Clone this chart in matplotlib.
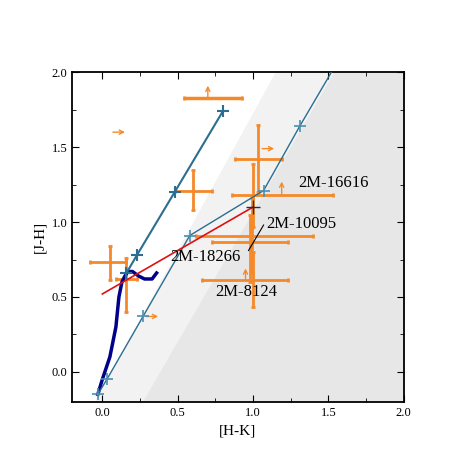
import matplotlib
matplotlib.use("Agg")
import matplotlib.pyplot as plt
import numpy as np
from matplotlib.ticker import MultipleLocator

plt.rcParams['font.family'] = ['Liberation Serif', 'DejaVu Serif']
plt.rcParams['mathtext.fontset'] = 'stix'

# reddening lines (blue)
red1_x = [0.16, 0.23, 0.48, 0.80]
red1_y = [0.66, 0.78, 1.20, 1.74]
red2_x = [-0.03, 0.03, 0.27, 0.58, 1.07, 1.31]
red2_y = [-0.15, -0.05, 0.37, 0.91, 1.21, 1.64]
red2_end = (1.52, 2.0)
# CTTS-like line (red)
ctts_x = [0.0, 1.0]
ctts_y = [0.52, 1.10]
# dwarf locus (navy)
locus_x = [-0.03, 0.0, 0.05, 0.09, 0.11, 0.13, 0.15, 0.17, 0.20, 0.24, 0.28, 0.33, 0.36]
locus_y = [-0.15, -0.05, 0.10, 0.30, 0.50, 0.60, 0.64, 0.67, 0.67, 0.64, 0.62, 0.62, 0.66]

# orange data with error bars
obj_x = [0.60, 0.05, 0.16, 1.03, 1.00, 0.99, 0.98, 1.00]
obj_y = [1.21, 0.73, 0.62, 1.42, 1.18, 0.91, 0.87, 0.61]
obj_xlo = [0.12, 0.13, 0.07, 0.15, 0.14, 0.37, 0.25, 0.34]
obj_xhi = [0.13, 0.11, 0.07, 0.16, 0.53, 0.41, 0.25, 0.23]
obj_ylo = [0.13, 0.12, 0.22, 0.22, 0.21, 0.25, 0.27, 0.18]
obj_yhi = [0.14, 0.11, 0.14, 0.23, 0.21, 0.25, 0.18, 0.19]
# limits: horizontal bar with up arrow, short right arrows, small up arrows
hbar_x, hbar_y, hbar_xlo, hbar_xhi = 0.73, 1.83, 0.19, 0.20
rarrow_x = [0.07, 0.29, 1.06]
rarrow_y = [1.60, 0.37, 1.49]
uarrow_x = [0.70, 1.19, 0.95]
uarrow_y = [1.83, 1.19, 0.61]

labels = ["2M-16616", "2M-10095", "2M-18266", "2M-8124"]
label_x = [1.30, 1.09, 0.45, 0.75]
label_y = [1.26, 0.99, 0.77, 0.53]

orange = '#f5892a'
blue = '#2b6e8f'

fig = plt.figure(figsize=(4.75, 4.75), dpi=100)
ax = fig.add_axes([0.152, 0.154, 0.698, 0.694])
ax.set_xlim(-0.2, 2.0)
ax.set_ylim(-0.2, 2.0)

ax.fill([-0.05, 1.15, 2.0, 2.0], [-0.2, 2.0, 2.0, -0.2], color='#f2f2f2', zorder=0, lw=0)
ax.fill([0.27, 1.54, 2.0, 2.0], [-0.2, 2.0, 2.0, -0.2], color='#e7e7e7', zorder=0, lw=0)

ax.plot(locus_x, locus_y, color='#00008b', lw=2.5, zorder=3)
ax.plot(red1_x, red1_y, color=blue, lw=1.5, marker='+', ms=9, mew=1.5, zorder=4)
ax.plot(red2_x + [red2_end[0]], red2_y + [red2_end[1]], color=blue, lw=1.0, zorder=4)
ax.plot(red2_x, red2_y, ls='none', color='#4a8fb0', marker='+', ms=9, mew=1.2, zorder=4)
ax.plot(ctts_x, ctts_y, color='#e01010', lw=1.2, zorder=4)
ax.plot([ctts_x[1]], [ctts_y[1]], color='#203040', marker='+', ms=10, mew=1.0, zorder=5)

ax.errorbar(obj_x, obj_y, xerr=[obj_xlo, obj_xhi], yerr=[obj_ylo, obj_yhi],
            fmt='none', ecolor=orange, elinewidth=2, capsize=1.5, capthick=2, zorder=2)
ax.errorbar([hbar_x], [hbar_y], xerr=[[hbar_xlo], [hbar_xhi]], fmt='none',
            ecolor=orange, elinewidth=2.5, capsize=1.5, capthick=2, zorder=2)
astyle = '->,head_width=0.15,head_length=0.3'
for x, y in zip(rarrow_x, rarrow_y):
    ax.annotate('', xy=(x + 0.08, y), xytext=(x, y),
                arrowprops=dict(arrowstyle=astyle, color=orange, lw=1.0, shrinkA=0, shrinkB=0))
for x, y in zip(uarrow_x, uarrow_y):
    ax.annotate('', xy=(x, y + 0.08), xytext=(x, y),
                arrowprops=dict(arrowstyle=astyle, color=orange, lw=1.0, shrinkA=0, shrinkB=0))

for t, x, y in zip(labels, label_x, label_y):
    ax.text(x, y, t, fontsize=12, va='center', ha='left', zorder=6)
ax.plot([1.07, 0.97], [0.98, 0.81], color='black', lw=0.8, zorder=5)

ax.set_xlabel('[H-K]', fontsize=11)
ax.set_ylabel('[J-H]', fontsize=11)
ax.xaxis.set_major_locator(MultipleLocator(0.5))
ax.yaxis.set_major_locator(MultipleLocator(0.5))
ax.xaxis.set_minor_locator(MultipleLocator(0.25))
ax.yaxis.set_minor_locator(MultipleLocator(0.25))
ax.tick_params(which='both', direction='in', top=True, right=True, labelsize=9)
ax.tick_params(which='major', length=5)
ax.tick_params(which='minor', length=3)
for s in ax.spines.values():
    s.set_linewidth(1.3)

fig.savefig('out.png', dpi=100)
